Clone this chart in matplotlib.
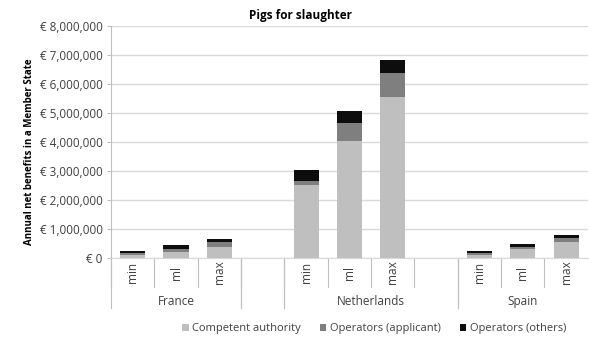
import matplotlib
matplotlib.use('Agg')
import matplotlib.pyplot as plt
import matplotlib.transforms as mtransforms
from matplotlib.ticker import FuncFormatter
from matplotlib.lines import Line2D

plt.rcParams['font.family'] = ['Open Sans', 'DejaVu Sans']

# data (EUR), one column per category slot; blank slots are None
countries = ['France', '', 'Netherlands', 'Spain']
levels = ['min', 'ml', 'max', '', 'min', 'ml', 'max', '', 'min', 'ml', 'max']
competent = [100000, 200000, 350000, None, 2490000, 4040000, 5560000, None, 100000, 280000, 530000]
applicant = [50000, 110000, 170000, None, 160000, 620000, 810000, None, 50000, 90000, 160000]
others = [90000, 110000, 130000, None, 370000, 410000, 440000, None, 70000, 90000, 80000]
series_names = ['Competent authority', 'Operators (applicant)', 'Operators (others)']
series_colors = ['#bfbfbf', '#7f7f7f', '#0d0d0d']

# group spans in slot units: (first slot, last slot)
group_spans = [(0, 2), (3, 3), (4, 7), (8, 10)]

fig = plt.figure(figsize=(5.89, 3.39), dpi=100)
ax = fig.add_axes([0.1885, 0.2404, 0.8095, 0.6829])

idx = [i for i, v in enumerate(competent) if v is not None]
bottom = [0.0] * len(idx)
for vals, name, col in zip([competent, applicant, others], series_names, series_colors):
    h = [vals[i] for i in idx]
    ax.bar(idx, h, width=0.58, bottom=bottom, color=col, label=name, zorder=3)
    bottom = [b + v for b, v in zip(bottom, h)]

ax.set_xlim(-0.5, 10.5)
ax.set_ylim(0, 8000000)
ax.set_yticks(range(0, 8000001, 1000000))
ax.yaxis.set_major_formatter(FuncFormatter(lambda v, p: '€ {:,.0f}'.format(v)))
ax.grid(axis='y', color='#d9d9d9', linewidth=1, zorder=0)
ax.set_axisbelow(True)
for s in ['top', 'right']:
    ax.spines[s].set_visible(False)
ax.spines['left'].set_color('#bfbfbf')
ax.spines['bottom'].set_color('#d9d9d9')
ax.tick_params(axis='y', colors='#bfbfbf', labelcolor='#404040', labelsize=8.5, length=3, pad=3)
ax.set_xticks([])

fig.text(0.51, 0.955, 'Pigs for slaughter', ha='center', va='center', fontsize=8.5, fontweight='bold')
ax.set_ylabel('Annual net benefits in a Member State', fontsize=7, fontweight='bold')
ax.yaxis.set_label_coords(-0.16, 0.456)

# multi-level category axis
trans = mtransforms.blended_transform_factory(ax.transData, ax.transAxes)
short_y = -0.127
long_y = -0.218
for i, lab in enumerate(levels):
    if lab:
        ax.text(i, -0.065, lab, transform=trans, rotation=90, ha='center', va='center',
                fontsize=8.5, color='#404040')
for i in range(11):
    x = i - 0.5
    ax.add_line(Line2D([x, x], [0, short_y], transform=trans, color='#bfbfbf', lw=0.8, clip_on=False))
for (a, b), name in zip(group_spans, countries):
    for x in (a - 0.5, b + 0.5):
        if x < 10.5:
            ax.add_line(Line2D([x, x], [0, long_y], transform=trans, color='#bfbfbf', lw=0.8, clip_on=False))
    if name:
        ax.text((a + b) / 2, -0.19, name, transform=trans, ha='center', va='center',
                fontsize=8.5, color='#404040')

fig.legend(loc='center', bbox_to_anchor=(0.635, 0.03), ncol=3, frameon=False, fontsize=8,
           handlelength=0.6, handleheight=0.6, handletextpad=0.3, columnspacing=1.7,
           labelcolor='#404040')

fig.savefig('out.png', dpi=100)
